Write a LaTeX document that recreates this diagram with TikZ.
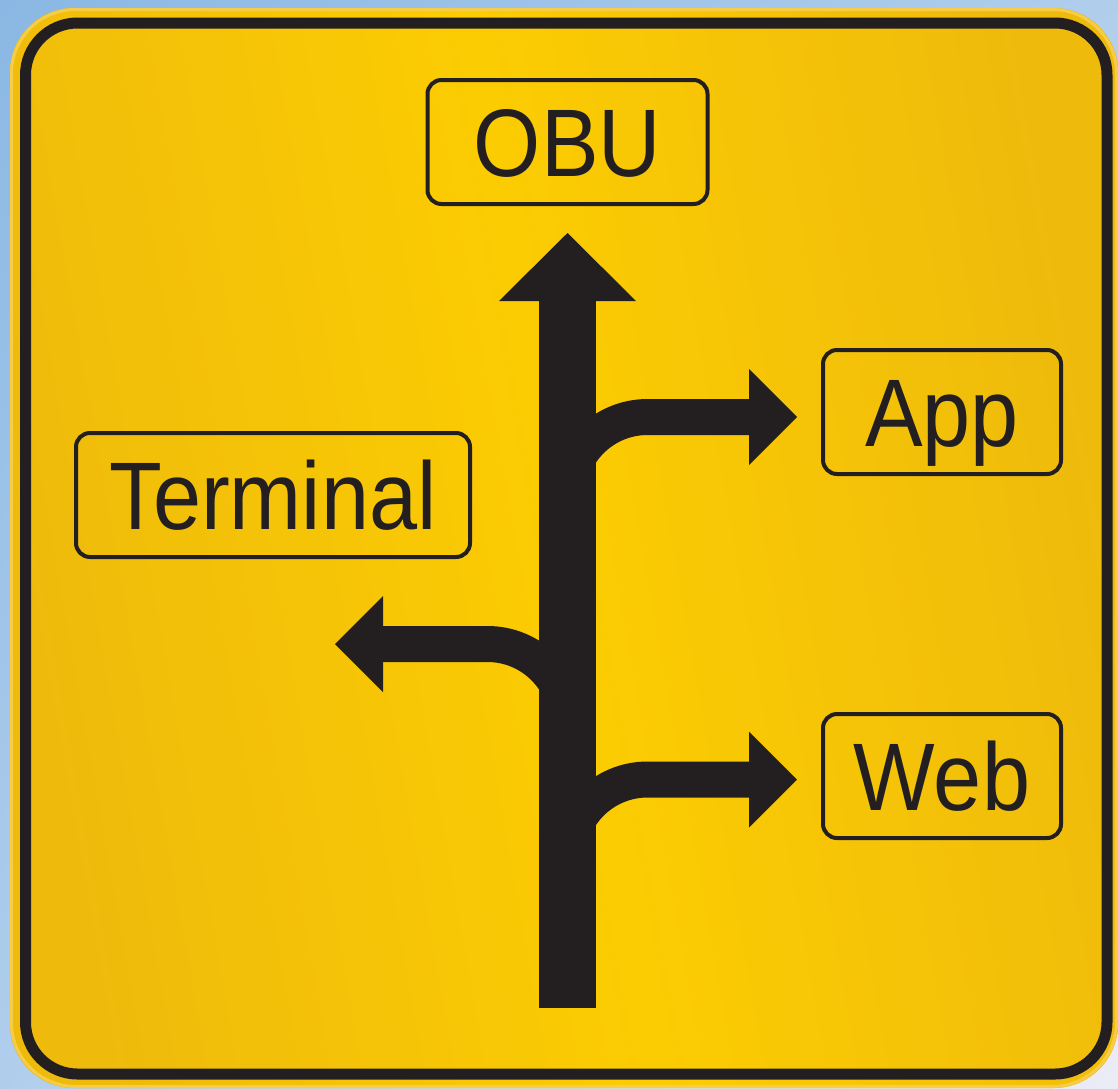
\documentclass[tikz,border=0pt]{standalone}
\usepackage{fontspec}
\usepackage{tikz}
\usetikzlibrary{positioning,shadings}
\newfontfamily\signfont[FakeStretch=0.9]{Liberation Sans}
\definecolor{skyclr}{RGB}{138,184,228}
\definecolor{skymidclr}{RGB}{176,206,236}
\definecolor{skylgtclr}{RGB}{236,236,246}
\definecolor{signclr}{RGB}{238,186,12}
\definecolor{signlgtclr}{RGB}{252,204,2}
\definecolor{rimclr}{RGB}{246,204,72}
\definecolor{inkclr}{RGB}{35,31,32}
\tikzset{ %
  ,plate/.style={draw=inkclr, line width=4pt, rounded corners=14pt, minimum height=124pt, inner sep=0, text height=69pt, text depth=0pt, text=inkclr, font=\signfont\fontsize{96}{100}\selectfont}
  ,shaft/.style={draw=inkclr, line width=57pt}
  ,branch/.style={draw=inkclr, line width=36pt, rounded corners=80pt}
  ,head/.style={fill=inkclr}
}
\begin{document}
\begin{tikzpicture}[x=1pt, y=-1pt]
  \useasboundingbox (0,0) rectangle (1118,1088);
  % sky and sign plate
  \shade[upper left=skyclr, upper right=skymidclr, lower left=skymidclr, lower right=skylgtclr] (0,0) rectangle (1118,1088);
  \shade[rounded corners=64pt, left color=signclr, right color=signclr, middle color=signlgtclr, shading angle=100] (10,8) rectangle (1118,1088);
  \draw[rimclr, line width=3pt, rounded corners=64pt] (11.5,9.5) rectangle (1116.5,1086.5);
  \draw[inkclr, line width=11pt, rounded corners=52pt] (25.5,23) rectangle (1107,1074);

  % arrow points
  \coordinate (foot) at (567.5,1008);
  \coordinate (neck) at (567.5,301);
  \coordinate (tipN) at (567.5,233);
  \coordinate (tipA) at (797,417);
  \coordinate (tipW) at (797,779.5);
  \coordinate (tipT) at (335,644);

  % branches
  \draw[branch] (567.5,540) |- ([xshift=-48pt]tipA);
  \draw[branch] (567.5,900) |- ([xshift=-48pt]tipW);
  \draw[branch] (567.5,780) |- ([xshift=48pt]tipT);
  \draw[shaft] (foot) -- (neck);

  % heads
  \fill[head] (tipN) -- ++(-68.5,68) -- ++(137,0) -- cycle;
  \fill[head] (tipA) -- ++(-48,-48) -- ++(0,96) -- cycle;
  \fill[head] (tipW) -- ++(-48,-48) -- ++(0,96) -- cycle;
  \fill[head] (tipT) -- ++(48,-48) -- ++(0,96) -- cycle;

  % destinations
  \node[plate, minimum width=280pt, above=27pt of tipN] (obu) {OBU};
  \node[plate, minimum width=238pt] (app) at (942,412) {App};
  \node[plate, minimum width=238pt] (web) at (942,776) {Web};
  \node[plate, minimum width=394pt] (term) at (273,495) {Terminal};
\end{tikzpicture}
\end{document}
